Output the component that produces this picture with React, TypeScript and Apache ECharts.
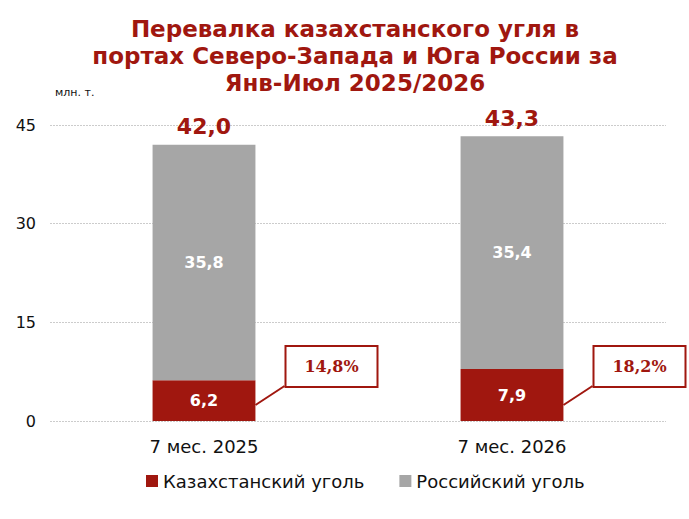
import React, { useEffect, useRef } from "react";
import * as echarts from "echarts";

const categories = ["7 мес. 2025", "7 мес. 2026"];
const kazakhCoal = [6.2, 7.9];
const russianCoal = [35.8, 35.4];
const totals = [42.0, 43.3];
const shares = ["14,8%", "18,2%"];
const yTicks = [0, 15, 30, 45];

const RED = "#A0170F";
const GRAY = "#A6A6A6";
const FONT = "DejaVu Sans, Verdana, sans-serif";

const fmt = (v: number) => v.toFixed(1).replace(".", ",");

export default function App() {
  const ref = useRef<HTMLDivElement>(null);
  useEffect(() => {
    if (!ref.current) return;
    const chart = echarts.init(ref.current, null, { renderer: "svg" });
    chart.setOption({
      animation: false,
      backgroundColor: "#fff",
      title: {
        text: "Перевалка казахстанского угля в\nпортах Северо-Запада и Юга России за\nЯнв-Июл 2025/2026",
        left: 350,
        top: 10,
        textAlign: "center",
        textStyle: {
          fontFamily: FONT,
          fontSize: 23,
          fontWeight: "bold",
          color: RED,
          lineHeight: 27,
        },
      },
      legend: {
        data: ["Казахстанский уголь", "Российский уголь"],
        bottom: 24,
        left: 141,
        icon: "rect",
        itemWidth: 12,
        itemHeight: 12,
        itemGap: 35,
        textStyle: { fontFamily: FONT, fontSize: 18, color: "#111" },
      },
      grid: { left: 50, right: 23, top: 125, bottom: 98 },
      xAxis: {
        type: "category",
        data: categories,
        axisLine: { show: false },
        axisTick: { show: false },
        axisLabel: { fontFamily: FONT, fontSize: 18, color: "#111", margin: 16 },
      },
      yAxis: {
        type: "value",
        min: yTicks[0],
        max: yTicks[yTicks.length - 1],
        interval: yTicks[1] - yTicks[0],
        axisLine: { show: false },
        axisTick: { show: false },
        axisLabel: { fontFamily: FONT, fontSize: 16, color: "#111", margin: 14 },
        splitLine: { lineStyle: { color: "#cccccc", type: [2, 1], width: 1 } },
      },
      series: [
        {
          name: "Казахстанский уголь",
          type: "bar",
          stack: "total",
          barWidth: "33.4%",
          data: kazakhCoal,
          itemStyle: { color: RED },
          label: {
            show: true,
            position: "inside",
            formatter: (p: any) => fmt(p.value),
            fontFamily: FONT,
            fontSize: 16,
            fontWeight: "bold",
            color: "#fff",
          },
        },
        {
          name: "Российский уголь",
          type: "bar",
          stack: "total",
          barWidth: "33.4%",
          data: russianCoal,
          itemStyle: { color: GRAY },
          label: {
            show: true,
            position: "inside",
            formatter: (p: any) => fmt(p.value),
            fontFamily: FONT,
            fontSize: 16,
            fontWeight: "bold",
            color: "#fff",
          },
        },
        {
          name: "total",
          type: "scatter",
          data: totals,
          symbolSize: 0,
          silent: true,
          itemStyle: { opacity: 1 },
          label: {
            show: true,
            position: "top",
            distance: 7,
            formatter: (p: any) => fmt(p.value),
            fontFamily: FONT,
            fontSize: 22,
            fontWeight: "bold",
            color: RED,
          },
        },
      ],
    });

    const barHalf = 51.5;
    const graphics: any[] = [
      {
        type: "text",
        left: 55,
        top: 87,
        style: { text: "млн. т.", fontFamily: FONT, fontSize: 11, fill: "#111" },
      },
    ];
    categories.forEach((c, i) => {
      const base = chart.convertToPixel({ gridIndex: 0 }, [i, 0]) as number[];
      const bx = base[0] + barHalf + 30;
      const by = base[1] - 75;
      const bw = 92;
      const bh = 41;
      graphics.push({
        type: "line",
        shape: { x1: base[0] + barHalf, y1: base[1] - 16, x2: bx - 1, y2: by + bh - 1 },
        style: { stroke: RED, lineWidth: 2 },
      });
      graphics.push({
        type: "rect",
        shape: { x: bx, y: by, width: bw, height: bh },
        style: { fill: "#fff", stroke: RED, lineWidth: 2 },
      });
      graphics.push({
        type: "text",
        x: bx + bw / 2,
        y: by + bh / 2,
        style: {
          text: shares[i],
          fontFamily: "DejaVu Serif, Liberation Serif, serif",
          fontSize: 16,
          fontWeight: "bold",
          fill: RED,
          textAlign: "center",
          textVerticalAlign: "middle",
        },
      });
    });
    chart.setOption({ graphic: graphics });

    return () => chart.dispose();
  }, []);
  return (
    <div
      ref={ref}
      style={{ position: "absolute", left: 0, top: 0, width: 689, height: 519 }}
    />
  );
}
